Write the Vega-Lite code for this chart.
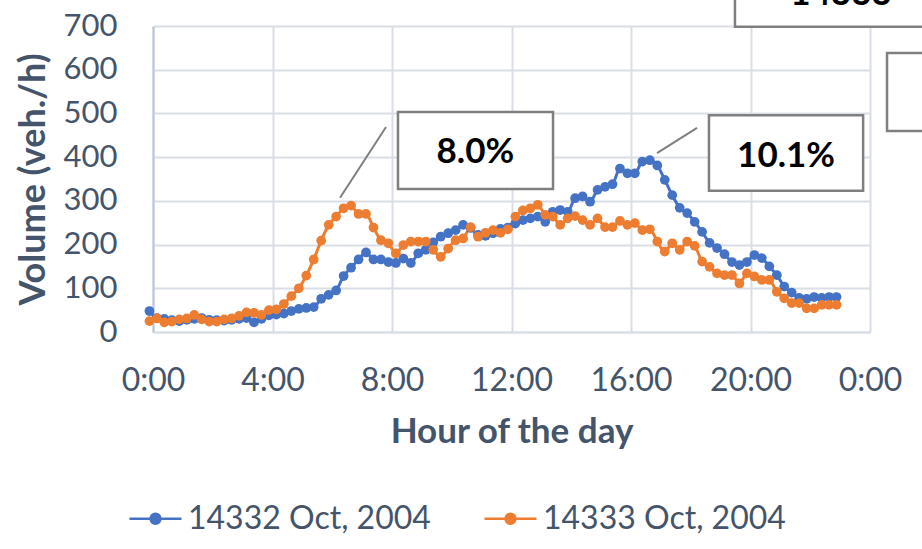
{
  "$schema": "https://vega.github.io/schema/vega-lite/v6.json",
  "width": 717,
  "height": 306,
  "autosize": {"type": "none"},
  "padding": {"left": 153, "top": 26, "right": 52, "bottom": 217},
  "background": "white",
  "config": {
    "font": "Lato",
    "view": {"stroke": null},
    "axis": {"labelFont": "Lato", "titleFont": "Lato"},
    "legend": {"labelFont": "Lato"}
  },
  "datasets": {
    "series": [
      {"h": -0.12, "a": 48, "b": 25}, {"h": 0.13, "a": 32, "b": 31}, {"h": 0.38, "a": 30, "b": 22}, {"h": 0.63, "a": 27, "b": 24},
      {"h": 0.88, "a": 25, "b": 29}, {"h": 1.13, "a": 28, "b": 31}, {"h": 1.38, "a": 30, "b": 39}, {"h": 1.63, "a": 32, "b": 29},
      {"h": 1.88, "a": 28, "b": 24}, {"h": 2.13, "a": 27, "b": 24}, {"h": 2.38, "a": 26, "b": 29}, {"h": 2.63, "a": 28, "b": 31},
      {"h": 2.88, "a": 30, "b": 37}, {"h": 3.13, "a": 32, "b": 45}, {"h": 3.38, "a": 22, "b": 44}, {"h": 3.63, "a": 30, "b": 39},
      {"h": 3.88, "a": 38, "b": 50}, {"h": 4.13, "a": 40, "b": 52}, {"h": 4.38, "a": 42, "b": 64}, {"h": 4.63, "a": 48, "b": 82},
      {"h": 4.88, "a": 53, "b": 100}, {"h": 5.13, "a": 55, "b": 129}, {"h": 5.38, "a": 57, "b": 166}, {"h": 5.63, "a": 76, "b": 209},
      {"h": 5.88, "a": 85, "b": 245}, {"h": 6.13, "a": 95, "b": 264}, {"h": 6.38, "a": 128, "b": 283}, {"h": 6.63, "a": 147, "b": 289},
      {"h": 6.88, "a": 166, "b": 270}, {"h": 7.13, "a": 182, "b": 270}, {"h": 7.38, "a": 166, "b": 239}, {"h": 7.63, "a": 166, "b": 210},
      {"h": 7.88, "a": 160, "b": 203}, {"h": 8.13, "a": 158, "b": 180}, {"h": 8.38, "a": 168, "b": 199}, {"h": 8.63, "a": 158, "b": 207},
      {"h": 8.88, "a": 180, "b": 207}, {"h": 9.13, "a": 188, "b": 207}, {"h": 9.38, "a": 205, "b": 188}, {"h": 9.63, "a": 218, "b": 172},
      {"h": 9.88, "a": 226, "b": 191}, {"h": 10.13, "a": 233, "b": 210}, {"h": 10.38, "a": 245, "b": 214}, {"h": 10.63, "a": 238, "b": 240},
      {"h": 10.88, "a": 222, "b": 218}, {"h": 11.13, "a": 220, "b": 227}, {"h": 11.38, "a": 226, "b": 233}, {"h": 11.63, "a": 236, "b": 227},
      {"h": 11.88, "a": 239, "b": 235}, {"h": 12.13, "a": 248, "b": 264}, {"h": 12.38, "a": 256, "b": 278}, {"h": 12.63, "a": 260, "b": 283},
      {"h": 12.88, "a": 264, "b": 291}, {"h": 13.13, "a": 252, "b": 268}, {"h": 13.38, "a": 275, "b": 264}, {"h": 13.63, "a": 279, "b": 245},
      {"h": 13.88, "a": 275, "b": 260}, {"h": 14.13, "a": 306, "b": 265}, {"h": 14.38, "a": 310, "b": 256}, {"h": 14.63, "a": 298, "b": 245},
      {"h": 14.88, "a": 325, "b": 260}, {"h": 15.13, "a": 332, "b": 240}, {"h": 15.38, "a": 338, "b": 240}, {"h": 15.63, "a": 374, "b": 254},
      {"h": 15.88, "a": 363, "b": 245}, {"h": 16.13, "a": 363, "b": 249}, {"h": 16.38, "a": 390, "b": 233}, {"h": 16.63, "a": 393, "b": 235},
      {"h": 16.88, "a": 381, "b": 207}, {"h": 17.13, "a": 348, "b": 184}, {"h": 17.38, "a": 313, "b": 203}, {"h": 17.63, "a": 284, "b": 188},
      {"h": 17.88, "a": 272, "b": 207}, {"h": 18.13, "a": 252, "b": 197}, {"h": 18.38, "a": 229, "b": 161}, {"h": 18.63, "a": 204, "b": 149},
      {"h": 18.88, "a": 192, "b": 134}, {"h": 19.13, "a": 178, "b": 130}, {"h": 19.38, "a": 160, "b": 130}, {"h": 19.63, "a": 153, "b": 111},
      {"h": 19.88, "a": 160, "b": 134}, {"h": 20.13, "a": 176, "b": 127}, {"h": 20.38, "a": 169, "b": 119}, {"h": 20.63, "a": 150, "b": 119},
      {"h": 20.88, "a": 130, "b": 92}, {"h": 21.13, "a": 104, "b": 77}, {"h": 21.38, "a": 90, "b": 66}, {"h": 21.63, "a": 78, "b": 66},
      {"h": 21.88, "a": 76, "b": 54}, {"h": 22.13, "a": 80, "b": 54}, {"h": 22.38, "a": 78, "b": 62}, {"h": 22.63, "a": 80, "b": 62},
      {"h": 22.88, "a": 80, "b": 62}
    ],
    "boxes": [
      {"x1": 8.2, "x2": 13.39, "y1": 327, "y2": 503},
      {"x1": 18.61, "x2": 23.77, "y1": 323, "y2": 496},
      {"x1": 19.48, "x2": 27, "y1": 698, "y2": 900},
      {"x1": 24.57, "x2": 27, "y1": 460, "y2": 638}
    ],
    "leaders": [
      {"x1": 6.26, "y1": 307, "x2": 7.8, "y2": 469},
      {"x1": 16.87, "y1": 409, "x2": 18.21, "y2": 467}
    ],
    "notes": [
      {"h": 10.79, "v": 386.6, "t": "8.0%"},
      {"h": 21.19, "v": 377.5, "t": "10.1%"},
      {"h": 23.03, "v": 748, "t": "14333"}
    ]
  },
  "layer": [
    {
      "data": {"name": "series"},
      "transform": [{"fold": ["a", "b"], "as": ["s", "v"]}],
      "mark": {"type": "line", "strokeWidth": 3, "interpolate": "monotone"},
      "encoding": {
        "x": {
          "field": "h", "type": "quantitative",
          "scale": {"domain": [0, 24], "nice": false, "zero": false},
          "axis": {
            "values": [0, 4, 8, 12, 16, 20, 24],
            "labelExpr": "(datum.value % 24) + ':00'",
            "grid": true, "gridColor": "#D9DEE6", "gridWidth": 2,
            "domain": true, "domainColor": "#D9DEE6", "domainWidth": 2,
            "ticks": false, "labelFontSize": 32, "labelColor": "#44546A",
            "labelPadding": 33, "labelFlush": false, "labelOverlap": false,
            "title": "Hour of the day", "titleFontSize": 35, "titleFontWeight": "bold",
            "titleColor": "#44546A", "titlePadding": 18
          }
        },
        "y": {
          "field": "v", "type": "quantitative",
          "scale": {"domain": [0, 700], "nice": false},
          "axis": {
            "values": [0, 100, 200, 300, 400, 500, 600, 700],
            "grid": true, "gridColor": "#D9DEE6", "gridWidth": 2,
            "domain": true, "domainColor": "#BCC6D4", "domainWidth": 2,
            "ticks": false, "labelFontSize": 31, "labelColor": "#44546A",
            "labelPadding": 36,
            "title": "Volume (veh./h)", "titleFontSize": 36, "titleFontWeight": "bold",
            "titleColor": "#44546A", "titlePadding": 11
          }
        },
        "color": {
          "field": "s", "type": "nominal",
          "scale": {"domain": ["a", "b"], "range": ["#4472C4", "#ED7D31"]}
        }
      }
    },
    {
      "data": {"name": "series"},
      "transform": [{"fold": ["a", "b"], "as": ["s", "v"]}],
      "mark": {"type": "point", "filled": true, "size": 95, "opacity": 1},
      "encoding": {
        "x": {"field": "h", "type": "quantitative"},
        "y": {"field": "v", "type": "quantitative"},
        "order": {"field": "s"},
        "color": {
          "field": "s", "type": "nominal",
          "legend": {
            "orient": "none", "legendX": -25, "legendY": 465,
            "direction": "horizontal", "title": null,
            "labelExpr": "datum.label == 'a' ? '14332 Oct, 2004' : '14333 Oct, 2004'",
            "labelFontSize": 32, "labelColor": "#44546A", "labelOffset": 5,
            "labelLimit": 400,
            "columnPadding": 48,
            "symbolType": "M-1,0H1M-0.19,0A0.19,0.19 0 1,0 0.19,0A0.19,0.19 0 1,0 -0.19,0Z",
            "symbolSize": 2704, "symbolStrokeWidth": 2.5,
            "symbolFillColor": "#888888",
            "encode": {"symbols": {"update": {"fill": {"scale": "color", "field": "value"}, "stroke": {"scale": "color", "field": "value"}}}}
          }
        }
      }
    },
    {
      "data": {"name": "boxes"},
      "mark": {"type": "rect", "fill": "white", "stroke": "#7F7F7F", "strokeWidth": 2.5},
      "encoding": {
        "x": {"field": "x1", "type": "quantitative"},
        "x2": {"field": "x2"},
        "y": {"field": "y1", "type": "quantitative"},
        "y2": {"field": "y2"}
      }
    },
    {
      "data": {"name": "leaders"},
      "mark": {"type": "rule", "stroke": "#7F7F7F", "strokeWidth": 2},
      "encoding": {
        "x": {"field": "x1", "type": "quantitative"},
        "x2": {"field": "x2"},
        "y": {"field": "y1", "type": "quantitative"},
        "y2": {"field": "y2"}
      }
    },
    {
      "data": {"name": "notes"},
      "mark": {"type": "text", "font": "Lato", "fontSize": 35, "fontWeight": "bold", "color": "black", "align": "center", "baseline": "alphabetic"},
      "encoding": {
        "x": {"field": "h", "type": "quantitative"},
        "y": {"field": "v", "type": "quantitative"},
        "text": {"field": "t"}
      }
    }
  ]
}
